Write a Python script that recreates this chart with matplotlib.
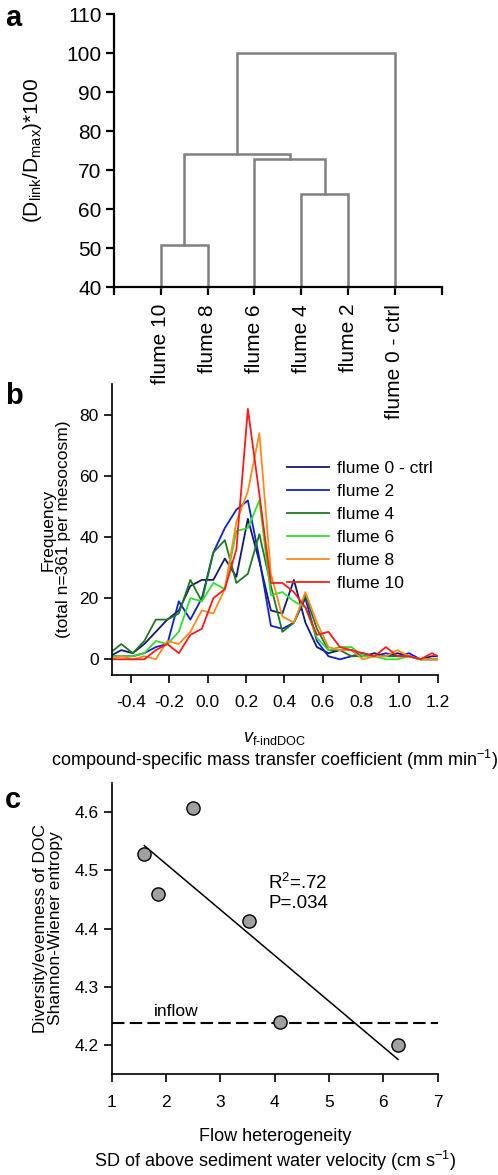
import numpy as np
import matplotlib
matplotlib.use("Agg")
import matplotlib.pyplot as plt

plt.rcParams['font.family'] = ['Liberation Sans', 'DejaVu Sans']
plt.rcParams['mathtext.fontset'] = 'custom'
plt.rcParams['mathtext.rm'] = 'Liberation Sans'
plt.rcParams['mathtext.it'] = 'Liberation Sans:italic'
plt.rcParams['axes.unicode_minus'] = False

# --- panel a: dendrogram of flumes
leaf_labels = ["flume 10", "flume 8", "flume 6", "flume 4", "flume 2", "flume 0 - ctrl"]
# merges: (child a, child b, height); leaves 0-5, new clusters numbered from 6
merges = [(0, 1, 50.8), (3, 4, 64.0), (2, 7, 72.8), (6, 8, 74.2), (9, 5, 100.0)]

# --- panel b: frequency distributions of v_f-indDOC
v_bins = [-0.51, -0.45, -0.39, -0.33, -0.27, -0.21, -0.15, -0.09, -0.03, 0.03,
          0.09, 0.15, 0.21, 0.27, 0.33, 0.39, 0.45, 0.51, 0.57, 0.63,
          0.69, 0.75, 0.81, 0.87, 0.93, 0.99, 1.05, 1.11, 1.17, 1.23]
freq_f0 = [1, 3, 2, 5, 9, 13, 16, 24, 26, 26, 33, 27, 46, 32, 16, 15, 26, 12, 4, 2,
           3, 3, 1, 2, 1, 2, 1, 0, 1, 1]
freq_f2 = [1, 1, 1, 2, 4, 5, 19, 13, 20, 35, 43, 49, 52, 33, 11, 10, 12, 20, 6, 1,
           0, 1, 2, 1, 2, 1, 2, 0, 0, 0]
freq_f4 = [2, 5, 2, 6, 13, 13, 15, 26, 19, 35, 39, 25, 28, 41, 24, 9, 12, 21, 10, 3,
           3, 1, 1, 1, 1, 1, 1, 0, 0, 0]
freq_f6 = [1, 1, 1, 2, 6, 5, 9, 20, 19, 25, 23, 42, 43, 52, 21, 22, 19, 17, 7, 3,
           4, 4, 1, 1, 0, 0, 1, 0, 0, 0]
freq_f8 = [0, 1, 0, 1, 0, 6, 5, 9, 16, 15, 23, 45, 55, 74, 28, 14, 12, 22, 12, 4,
           3, 3, 0, 1, 1, 3, 1, 0, 0, 0]
freq_f10 = [0, 0, 0, 0, 3, 5, 2, 8, 10, 20, 23, 36, 82, 54, 25, 25, 22, 17, 8, 9,
            4, 3, 2, 1, 4, 1, 1, 0, 2, 0]
series_names = ["flume 0 - ctrl", "flume 2", "flume 4", "flume 6", "flume 8", "flume 10"]
series_colors = ["#101a70", "#1020d0", "#1e7a1e", "#30e030", "#ff8a1a", "#ff1a1a"]

# --- panel c: DOC diversity vs flow heterogeneity
flow_sd = [1.60, 1.86, 2.50, 3.52, 4.10, 6.27]
shannon = [4.528, 4.460, 4.608, 4.413, 4.240, 4.200]
inflow_shannon = 4.237

fig = plt.figure(figsize=(4.98, 11.75), dpi=100)

# ---------- a
ax1 = fig.add_axes([0.229, 0.7555, 0.658, 0.2325])
pos = {i: i + 1.0 for i in range(len(leaf_labels))}
hgt = {i: 40.0 for i in range(len(leaf_labels))}
for k, (a, b, h) in enumerate(merges):
    ax1.plot([pos[a], pos[a], pos[b], pos[b]], [hgt[a], h, h, hgt[b]],
             color="#808080", lw=1.8, solid_joinstyle="miter", clip_on=False)
    new = len(leaf_labels) + k
    pos[new] = (pos[a] + pos[b]) / 2
    hgt[new] = h
ax1.set_xlim(0, 7)
ax1.set_ylim(40, 110)
ax1.set_yticks(range(40, 111, 10))
ax1.set_xticks(range(0, 8))
ax1.set_xticklabels([""] + leaf_labels + [""], rotation=90, va="top")
for s in ["top", "right"]:
    ax1.spines[s].set_visible(False)
for s in ["left", "bottom"]:
    ax1.spines[s].set_linewidth(1.6)
ax1.tick_params(labelsize=15, width=1.6, length=6, pad=3)
ax1.tick_params(axis="x", pad=6)
ax1.set_ylabel(r"(D$_{\mathrm{link}}$/D$_{\mathrm{max}}$)*100", fontsize=15, labelpad=16)

# ---------- b
ax2 = fig.add_axes([0.2243, 0.4259, 0.6547, 0.2469])
ax2.patch.set_visible(False)
for ys, name, c in zip([freq_f0, freq_f2, freq_f4, freq_f6, freq_f8, freq_f10],
                       series_names, series_colors):
    ax2.plot(v_bins, ys, color=c, lw=1.3, label=name)
ax2.set_xlim(-0.5, 1.2)
ax2.set_ylim(-5, 90)
ax2.set_xticks(np.arange(-0.4, 1.21, 0.2))
ax2.set_xticklabels(["%.1f" % t for t in np.arange(-0.4, 1.21, 0.2)])
ax2.set_yticks([0, 20, 40, 60, 80])
for s in ["top", "right"]:
    ax2.spines[s].set_visible(False)
for s in ["left", "bottom"]:
    ax2.spines[s].set_linewidth(1.2)
ax2.tick_params(labelsize=12.5, width=1.2, length=6)
ax2.tick_params(axis="x", pad=9)
ax2.set_ylabel("Frequency\n(total n=361 per mesocosm)", fontsize=12.5, labelpad=6,
               linespacing=1.0)
ax2.text(0.5, -0.22, r"$v_{\text{f-indDOC}}$", transform=ax2.transAxes,
         ha="center", va="center", fontsize=13)
ax2.set_xlabel("compound-specific mass transfer coefficient (mm min$^{-1}$)",
               fontsize=13, labelpad=27)
ax2.legend(loc="upper left", bbox_to_anchor=(0.538, 0.735), frameon=False,
           fontsize=12.5, handlelength=2.4, handletextpad=0.5, labelspacing=0.45,
           borderpad=0, borderaxespad=0)

# ---------- c
ax3 = fig.add_axes([0.2243, 0.086, 0.6547, 0.2474])
fit = np.polyfit(flow_sd, shannon, 1)
xfit = np.array([min(flow_sd), max(flow_sd)])
ax3.axhline(inflow_shannon, color="black", lw=1.5, dashes=(6, 2.5))
ax3.plot(xfit, np.polyval(fit, xfit), color="black", lw=1.1)
ax3.plot(flow_sd, shannon, "o", ms=9.5, mfc="#a0a0a0", mec="black", mew=1.0)
ax3.text(1.78, 4.258, "inflow", fontsize=12.5, va="center")
ax3.text(3.88, 4.478, "R$^2$=.72", fontsize=13.5, va="center")
ax3.text(3.88, 4.443, "P=.034", fontsize=13.5, va="center")
ax3.set_xlim(1, 7)
ax3.set_ylim(4.15, 4.65)
ax3.set_xticks(range(1, 8))
ax3.set_yticks([4.2, 4.3, 4.4, 4.5, 4.6])
for s in ["top", "right"]:
    ax3.spines[s].set_visible(False)
for s in ["left", "bottom"]:
    ax3.spines[s].set_linewidth(1.2)
ax3.tick_params(labelsize=12.5, width=1.2, length=6)
ax3.tick_params(axis="x", pad=9)
ax3.set_ylabel("Diversity/evenness of DOC\nShannon-Wiener entropy", fontsize=12.5,
               labelpad=8, linespacing=1.0)
ax3.set_xlabel("Flow heterogeneity\nSD of above sediment water velocity (cm s$^{-1}$)",
               fontsize=13, labelpad=13, linespacing=1.25)

fig.text(0.01, 0.997, "a", fontsize=21, fontweight="bold", va="top")
fig.text(0.01, 0.675, "b", fontsize=21, fontweight="bold", va="top")
fig.text(0.01, 0.331, "c", fontsize=21, fontweight="bold", va="top")

fig.savefig("out.png", dpi=100)
